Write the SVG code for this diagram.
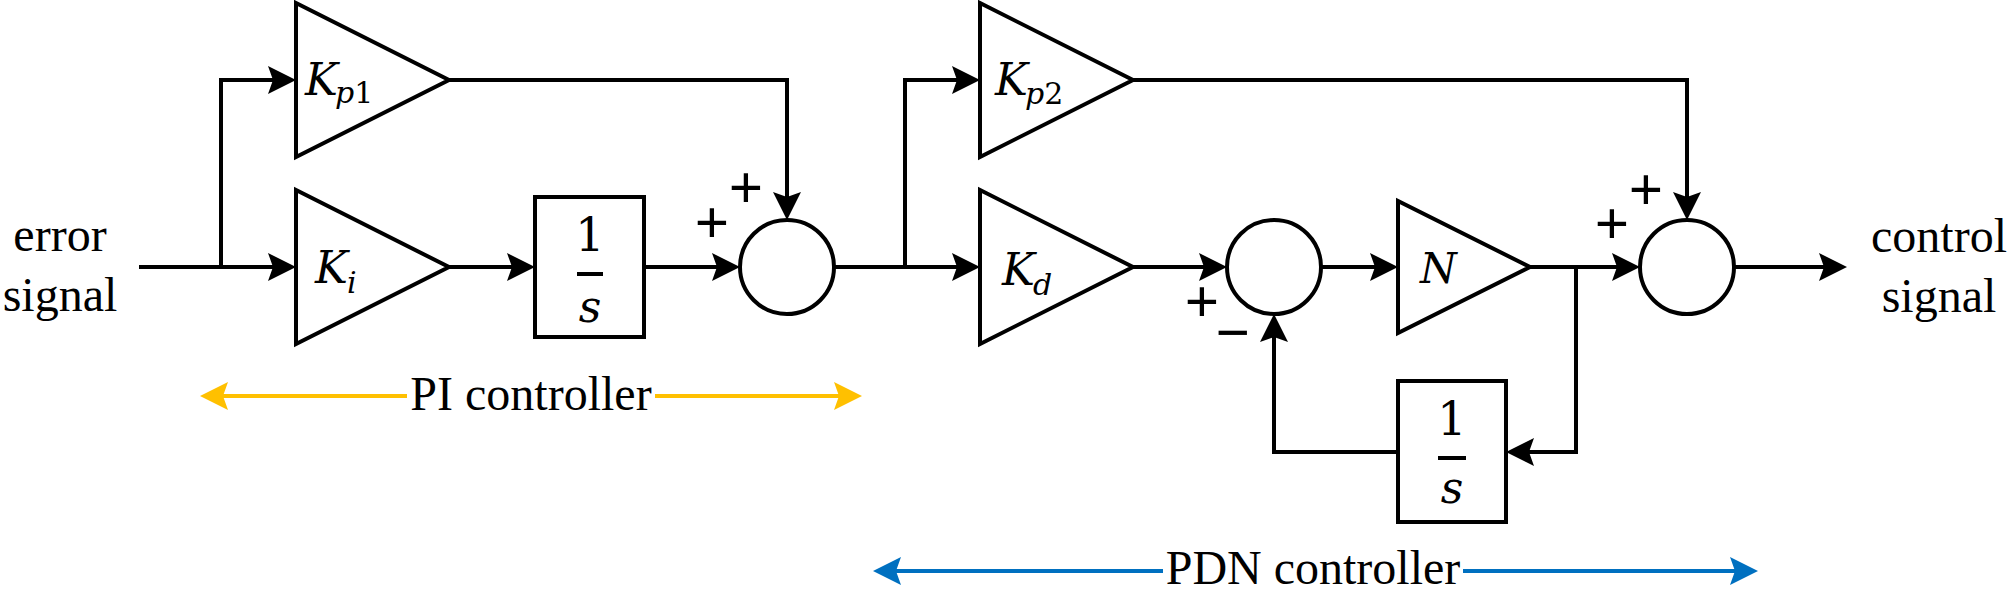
<svg xmlns="http://www.w3.org/2000/svg" width="2008" height="590" viewBox="0 0 2008 590">
<style>
.blk{fill:#fff;stroke:#000;stroke-width:4;stroke-linejoin:miter}
.wire{fill:none;stroke:#000;stroke-width:4;stroke-linejoin:miter}
.bar{stroke:#000;stroke-width:4}
.lbl{font-size:48px;fill:#000;text-anchor:middle}
.sign{font-size:61px;font-weight:bold;fill:#000;text-anchor:middle}
.m{font-style:italic;fill:#000}
.num{font-style:normal;fill:#000;text-anchor:middle}
.yel{fill:none;stroke:#FFC000;stroke-width:4}
.blu{fill:none;stroke:#0070C0;stroke-width:4}
</style>
<defs>
<marker id="ah" markerUnits="userSpaceOnUse" orient="auto" overflow="visible" refX="0" refY="0" markerWidth="30" markerHeight="30">
<path d="M10,0 L-18,-14 L-13,0 L-18,14 Z" fill="#000"/>
</marker>
<marker id="ahy" markerUnits="userSpaceOnUse" orient="auto" overflow="visible" refX="0" refY="0" markerWidth="30" markerHeight="30">
<path d="M10,0 L-18,-14 L-13,0 L-18,14 Z" fill="#FFC000"/>
</marker>
<marker id="ahb" markerUnits="userSpaceOnUse" orient="auto" overflow="visible" refX="0" refY="0" markerWidth="30" markerHeight="30">
<path d="M10,0 L-18,-14 L-13,0 L-18,14 Z" fill="#0070C0"/>
</marker>
</defs>

<g id="connectors">
<path class="wire" d="M139,267 H286" marker-end="url(#ah)"/>
<path class="wire" d="M221,269 V80 H286" marker-end="url(#ah)"/>
<path class="wire" d="M449,267 H525" marker-end="url(#ah)"/>
<path class="wire" d="M644,267 H730" marker-end="url(#ah)"/>
<path class="wire" d="M449,80 H787 V210" marker-end="url(#ah)"/>
<path class="wire" d="M834,267 H970" marker-end="url(#ah)"/>
<path class="wire" d="M905,269 V80 H970" marker-end="url(#ah)"/>
<path class="wire" d="M1133,80 H1687 V210" marker-end="url(#ah)"/>
<path class="wire" d="M1133,267 H1217" marker-end="url(#ah)"/>
<path class="wire" d="M1321,267 H1388" marker-end="url(#ah)"/>
<path class="wire" d="M1530,267 H1630" marker-end="url(#ah)"/>
<path class="wire" d="M1576,265 V452 H1516" marker-end="url(#ah)"/>
<path class="wire" d="M1398,452 H1274 V324" marker-end="url(#ah)"/>
<path class="wire" d="M1734,267 H1837" marker-end="url(#ah)"/>
<path class="yel" d="M407,396 H210" marker-end="url(#ahy)"/>
<path class="yel" d="M655,396 H852" marker-end="url(#ahy)"/>
<path class="blu" d="M1163,571 H883" marker-end="url(#ahb)"/>
<path class="blu" d="M1463,571 H1748" marker-end="url(#ahb)"/>
</g>

<g id="error-signal" font-family="Times New Roman">
<text class="lbl" x="60" y="251" font-family="Times New Roman">error</text>
<text class="lbl" x="60" y="311" font-family="Times New Roman">signal</text>
</g>

<g id="Kp1">
<polygon class="blk" points="296,3 296,157 449,80"/>
<text class="m" x="305" y="95" font-size="44" font-family="DejaVu Serif">K</text>
<text class="m" x="335" y="103" font-size="30" font-family="DejaVu Serif">p<tspan font-style="normal">1</tspan></text>
</g>

<g id="Ki">
<polygon class="blk" points="296,190 296,344 449,267"/>
<text class="m" x="315" y="283" font-size="44" font-family="DejaVu Serif">K</text>
<text class="m" x="347" y="293" font-size="30" font-family="DejaVu Serif">i</text>
</g>

<g id="int1">
<rect class="blk" x="535" y="197" width="109" height="140"/>
<text class="num" x="590" y="251" font-size="46" font-family="DejaVu Serif">1</text>
<line class="bar" x1="577" y1="274" x2="603" y2="274"/>
<text class="m" x="590" y="322" font-size="44" text-anchor="middle" font-family="DejaVu Serif">s</text>
</g>

<g id="sum1">
<circle class="blk" cx="787" cy="267" r="47"/>
<text class="sign" x="746" y="208" font-family="Times New Roman">+</text>
<text class="sign" x="712" y="243" font-family="Times New Roman">+</text>
</g>

<g id="Kp2">
<polygon class="blk" points="980,3 980,157 1133,80"/>
<text class="m" x="995" y="95" font-size="44" font-family="DejaVu Serif">K</text>
<text class="m" x="1025" y="104" font-size="30" font-family="DejaVu Serif">p<tspan font-style="normal">2</tspan></text>
</g>

<g id="Kd">
<polygon class="blk" points="980,190 980,344 1133,267"/>
<text class="m" x="1002" y="285" font-size="44" font-family="DejaVu Serif">K</text>
<text class="m" x="1033" y="295" font-size="30" font-family="DejaVu Serif">d</text>
</g>

<g id="sum2">
<circle class="blk" cx="1274" cy="267" r="47"/>
<text class="sign" x="1202" y="322" font-family="Times New Roman">+</text>
<text class="sign" x="1233" y="353" font-family="Times New Roman">−</text>
</g>

<g id="N">
<polygon class="blk" points="1398,201 1398,333 1530,267"/>
<text class="m" x="1420" y="283" font-size="42" font-family="DejaVu Serif">N</text>
</g>

<g id="int2">
<rect class="blk" x="1398" y="381" width="108" height="141"/>
<text class="num" x="1452" y="435" font-size="46" font-family="DejaVu Serif">1</text>
<line class="bar" x1="1438" y1="458" x2="1466" y2="458"/>
<text class="m" x="1452" y="503" font-size="44" text-anchor="middle" font-family="DejaVu Serif">s</text>
</g>

<g id="sum3">
<circle class="blk" cx="1687" cy="267" r="47"/>
<text class="sign" x="1646" y="210" font-family="Times New Roman">+</text>
<text class="sign" x="1612" y="244" font-family="Times New Roman">+</text>
</g>

<g id="control-signal">
<text class="lbl" x="1939" y="252" font-family="Times New Roman">control</text>
<text class="lbl" x="1939" y="312" font-family="Times New Roman">signal</text>
</g>

<g id="PI-label">
<text class="lbl" x="531" y="410" font-family="Times New Roman">PI controller</text>
</g>

<g id="PDN-label">
<text class="lbl" x="1313" y="584" font-family="Times New Roman">PDN controller</text>
</g>
</svg>
